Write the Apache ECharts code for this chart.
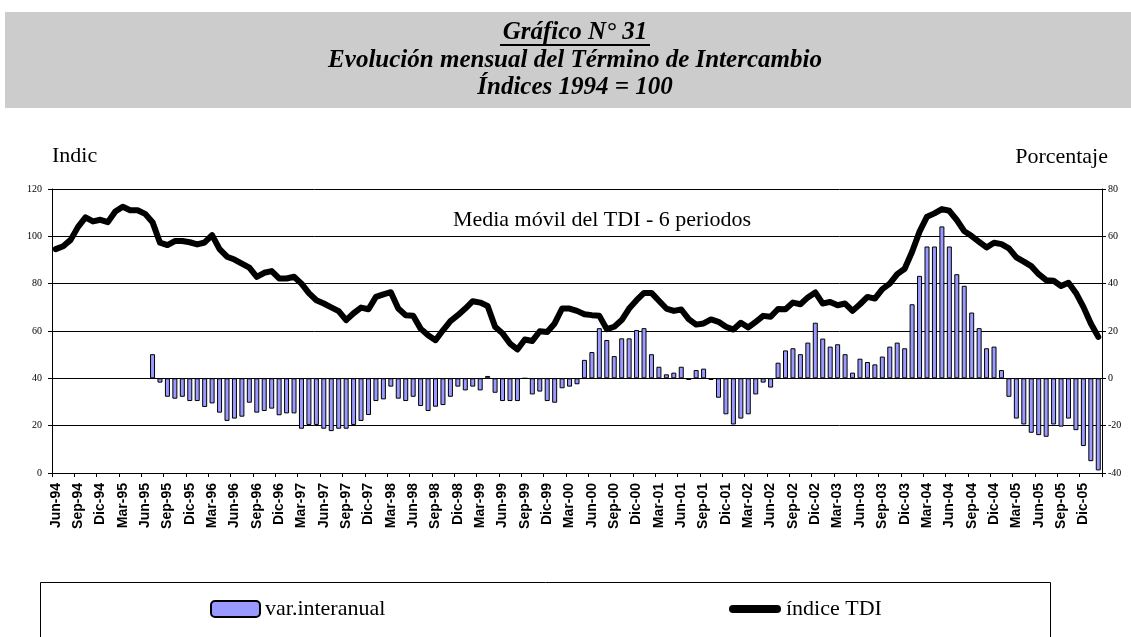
<!DOCTYPE html>
<html lang="es">
<head>
<meta charset="utf-8">
<title>Evolución mensual del Término de Intercambio</title>
<script src="https://cdn.jsdelivr.net/npm/echarts@6/dist/echarts.min.js"></script>
<style>
  html, body { margin: 0; padding: 0; background: #fff; }
  #chart { width: 1131px; height: 637px; }
</style>
</head>
<body>
<div id="chart"></div>
<script>
// meses Jun-94 .. Feb-06
const monthNames = ["Ene", "Feb", "Mar", "Abr", "May", "Jun", "Jul", "Ago", "Sep", "Oct", "Nov", "Dic"]
const categories = []
for (let y = 1994; y <= 2006; y++) {
  for (let m = 0; m < 12; m++) {
    if (y === 1994 && m < 5) continue
    if (y === 2006 && m > 1) continue
    categories.push(`${monthNames[m]}-${String(y).slice(2)}`)
  }
}

// índice TDI, media móvil 6 periodos (eje izquierdo)
const indiceTDI = [
  94.6, 95.8, 98.5, 104, 108, 106.3, 107, 106, 110.5, 112.5, 111, 111,
  109.5, 106, 97.3, 96.3, 98, 98, 97.5, 96.6, 97.4, 100.5, 94.6, 91.4,
  90.2, 88.5, 86.8, 82.9, 84.6, 85.3, 82.2, 82.2, 82.9, 80, 76, 73,
  71.6, 70, 68.4, 64.6, 67.5, 69.9, 69.2, 74.4, 75.5, 76.4, 69.5, 66.7,
  66.4, 61, 58.2, 56.1, 60.3, 64.2, 66.7, 69.5, 72.6, 72, 70.6, 61.8,
  59, 54.7, 52.2, 56.4, 55.8, 59.9, 59.6, 63.2, 69.5, 69.5, 68.5, 67.1,
  66.7, 66.4, 60.8, 61.8, 64.6, 69.5, 73, 76.1, 76.1, 72.8, 69.5, 68.5,
  69.1, 65, 62.7, 63.2, 64.9, 63.9, 61.8, 60.6, 63.5, 61.5, 63.9, 66.4,
  66, 69.3, 69.2, 72, 71.3, 74.2, 76.3, 71.6, 72.3, 70.9, 71.6, 68.5,
  71.3, 74.4, 73.7, 77.7, 80, 84, 86.3, 93.5, 102, 108.3, 109.7, 111.5,
  110.8, 106.9, 102.2, 100.1, 97.7, 95.3, 97.3, 96.7, 94.9, 91.1, 89.3, 87.4,
  84, 81.5, 81.2, 79, 80.4, 76.1, 70.2, 63.2, 57.5
]

// variación interanual en % (eje derecho)
const varInteranual = [
  null, null, null, null, null, null, null, null, null, null, null, null,
  null, 10.2, -1.8, -7.8, -8.6, -7.8, -9.6, -9.6, -12.1, -10.6, -14.5, -18,
  -17, -16.2, -10.3, -14.5, -13.8, -12.8, -15.6, -14.8, -14.8, -21.3, -19.7, -19.7,
  -21.3, -22.3, -21.3, -21.3, -19.7, -18, -15.5, -9.6, -8.9, -3.5, -8.6, -9.6,
  -7.8, -11.7, -13.8, -12, -11.3, -7.8, -3.5, -5.1, -3.5, -5.1, 1, -6.1,
  -9.6, -9.6, -9.6, 0, -6.8, -5.6, -9.6, -10.3, -4.2, -3.5, -2.5, 7.8,
  11.1, 21.2, 16.2, 9.4, 16.9, 16.9, 20.4, 21.2, 10.2, 4.9, 1.7, 2.4,
  4.9, -0.7, 3.5, 4.1, -0.7, -8.2, -15.2, -19.5, -17, -15.2, -6.8, -1.8,
  -3.9, 6.6, 11.8, 12.7, 10.2, 15.1, 23.5, 16.8, 13.4, 14.4, 10.2, 2.4,
  8.3, 6.9, 5.9, 9.2, 13.4, 15.1, 12.7, 31.3, 43.3, 55.7, 55.7, 64.2,
  55.7, 44, 39.1, 27.8, 21.2, 12.7, 13.4, 3.5, -7.8, -17, -19.5, -23,
  -24, -24.7, -19.5, -20.4, -17, -21.9, -28.6, -35, -38.9
]

const serif = "'Liberation Serif', 'Times New Roman', serif"
const sans = "'Liberation Sans', Arial, sans-serif"

const chart = echarts.init(document.getElementById("chart"), null, { renderer: "canvas" })

const option = {
  animation: false,
  backgroundColor: "#fff",
  grid: {
    left: 52,
    right: 29,
    top: 189,
    height: 284,
    outerBoundsMode: "none"
  },
  legend: [
    {
      data: [{ name: "var.interanual" }],
      left: 210,
      top: 598,
      itemWidth: 49,
      itemHeight: 16,
      padding: 0,
      itemStyle: { borderColor: "#000", borderWidth: 2 },
      textStyle: { fontFamily: serif, fontSize: 22, color: "#000" }
    },
    {
      data: [{ name: "índice TDI", icon: "path://M4,0 L48,0 A4,4 0 0 1 48,8 L4,8 A4,4 0 0 1 4,0 Z" }],
      left: 729,
      top: 598,
      itemWidth: 52,
      itemHeight: 8,
      padding: 0,
      textStyle: { fontFamily: serif, fontSize: 22, color: "#000" }
    }
  ],
  xAxis: {
    type: "category",
    data: categories,
    boundaryGap: true,
    axisLine: { lineStyle: { color: "#000", width: 1 } },
    axisTick: { show: true, interval: 2, length: 4, lineStyle: { color: "#000" } },
    axisLabel: {
      interval: 2,
      rotate: 90,
      margin: 10,
      fontFamily: sans,
      fontSize: 14,
      fontWeight: "bold",
      color: "#000"
    },
    splitLine: { show: false }
  },
  yAxis: [
    {
      type: "value",
      min: 0,
      max: 120,
      interval: 20,
      axisLine: { show: true, lineStyle: { color: "#000", width: 1 } },
      axisTick: { show: true, length: 4, lineStyle: { color: "#000" } },
      axisLabel: { margin: 10, fontFamily: serif, fontSize: 10, color: "#000" },
      splitLine: { show: true, lineStyle: { color: "#000", width: 1 } }
    },
    {
      type: "value",
      min: -40,
      max: 80,
      interval: 20,
      position: "right",
      axisLine: { show: true, lineStyle: { color: "#000", width: 1 } },
      axisTick: { show: true, length: 4, lineStyle: { color: "#000" } },
      axisLabel: { margin: 6, fontFamily: serif, fontSize: 10, color: "#000" },
      splitLine: { show: false }
    }
  ],
  series: [
    {
      name: "var.interanual",
      type: "bar",
      yAxisIndex: 1,
      data: varInteranual,
      barWidth: 5,
      itemStyle: { color: "#9999FF", borderColor: "#000", borderWidth: 1 },
      z: 2
    },
    {
      name: "índice TDI",
      type: "line",
      yAxisIndex: 0,
      data: indiceTDI,
      color: "#000",
      showSymbol: false,
      symbol: "none",
      lineStyle: { color: "#000", width: 6, cap: "round", join: "round" },
      z: 3
    }
  ],
  graphic: [
    {
      type: "rect",
      shape: { x: 5, y: 12, width: 1126, height: 96 },
      style: { fill: "#CCCCCC" },
      silent: true
    },
    {
      type: "text",
      x: 575,
      y: 33,
      style: { text: "Gráfico N° 31", font: `italic bold 25px ${serif}`, fill: "#000", align: "center", verticalAlign: "middle" }
    },
    {
      type: "rect",
      shape: { x: 500, y: 44, width: 150, height: 2 },
      style: { fill: "#000" }
    },
    {
      type: "text",
      x: 575,
      y: 61,
      style: { text: "Evolución mensual del Término de Intercambio", font: `italic bold 25px ${serif}`, fill: "#000", align: "center", verticalAlign: "middle" }
    },
    {
      type: "text",
      x: 575,
      y: 88,
      style: { text: "Índices 1994 = 100", font: `italic bold 25px ${serif}`, fill: "#000", align: "center", verticalAlign: "middle" }
    },
    {
      type: "text",
      x: 52,
      y: 156,
      style: { text: "Indic", font: `22px ${serif}`, fill: "#000", align: "left", verticalAlign: "middle" }
    },
    {
      type: "text",
      x: 1108,
      y: 157,
      style: { text: "Porcentaje", font: `22px ${serif}`, fill: "#000", align: "right", verticalAlign: "middle" }
    },
    {
      type: "text",
      x: 602,
      y: 220,
      style: { text: "Media móvil del TDI - 6 periodos", font: `22px ${serif}`, fill: "#000", align: "center", verticalAlign: "middle" },
      z: 10
    },
    {
      type: "rect",
      shape: { x: 40.5, y: 582.5, width: 1010, height: 80 },
      style: { fill: "none", stroke: "#000", lineWidth: 1 },
      silent: true
    }
  ]
}

chart.setOption(option)
</script>
</body>
</html>
